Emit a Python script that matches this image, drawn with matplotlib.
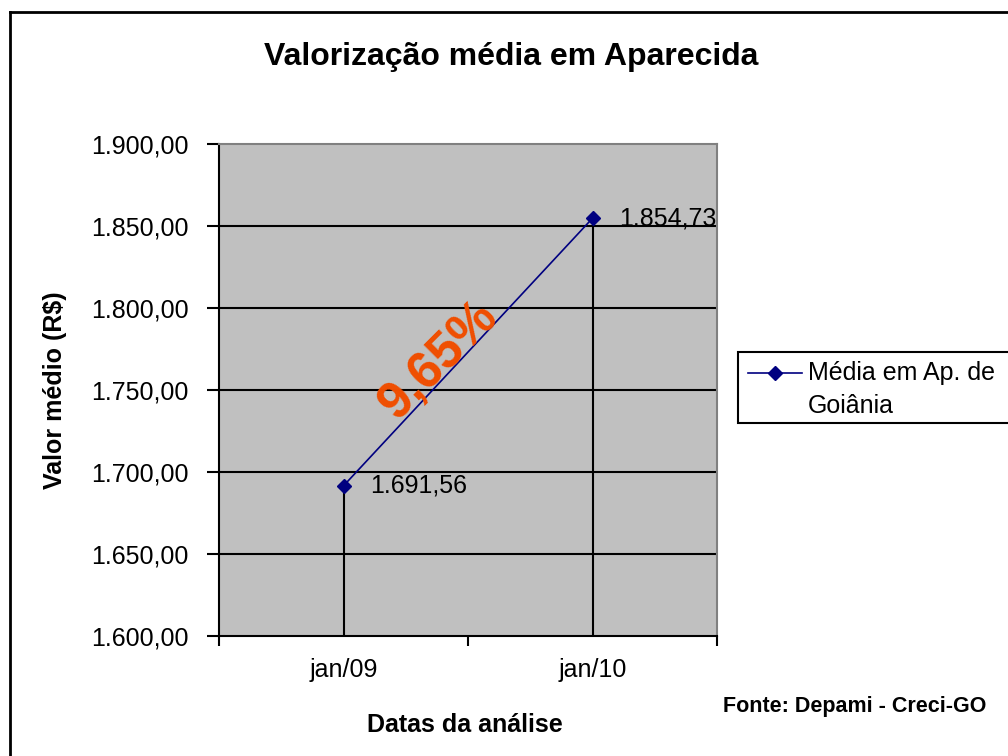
import matplotlib.pyplot as plt
from matplotlib.lines import Line2D
from matplotlib.patches import Rectangle

plt.rcParams['font.family'] = ['Liberation Sans', 'DejaVu Sans']

# dados
categorias = ["jan/09", "jan/10"]
valores = [1691.56, 1854.73]
variacao = "9,65%"
serie_label = "Média em Ap. de\nGoiânia"
y_ticks = [1600, 1650, 1700, 1750, 1800, 1850, 1900]

AZUL = '#000080'
LARANJA = '#F04E00'


def fmt_br(v):
    s = f"{v:,.2f}"
    return s.replace(",", "X").replace(".", ",").replace("X", ".")


fig = plt.figure(figsize=(10.08, 7.56), dpi=100)
W, H = 1008, 756


def fx(px):
    return px / W


def fy(py):
    return 1 - py / H


ax = fig.add_axes([fx(219), fy(636), (717 - 219) / W, (636 - 144) / H])
ax.set_facecolor('#C0C0C0')

x = list(range(len(categorias)))
ax.set_xlim(-0.5, len(categorias) - 0.5)
ax.set_ylim(y_ticks[0], y_ticks[-1])

# grade horizontal
for t in y_ticks[1:-1]:
    ax.axhline(t, color='black', lw=1.5, zorder=1)

# linhas de queda
ax.vlines(x, y_ticks[0], valores, color='black', lw=1.5, zorder=2)

ax.plot(x, valores, color=AZUL, lw=1.2, marker='D', markersize=7.5, zorder=3)

for xi, v in zip(x, valores):
    ax.annotate(fmt_br(v), (xi, v), xytext=(19, 0), textcoords='offset points',
                ha='left', va='center', fontsize=18, color='black')

ax.text(0.38, 1768, variacao, rotation=45, ha='center', va='center',
        fontsize=37, fontweight='bold', color=LARANJA, zorder=4)

ax.set_yticks(y_ticks)
ax.set_yticklabels([fmt_br(t) for t in y_ticks], fontsize=18)
ax.set_xticks(x)
ax.set_xticklabels(categorias, fontsize=18)
ax.set_xticks([-0.5, 0.5, 1.5], minor=True)
ax.tick_params(axis='x', which='major', length=0, pad=16)
ax.tick_params(axis='x', which='minor', length=7, width=1.5, direction='out')
ax.tick_params(axis='y', length=8.6, width=1.5, direction='out', pad=13.5)

for side in ['top', 'right']:
    ax.spines[side].set_color('#808080')
    ax.spines[side].set_linewidth(1.5)
for side in ['left', 'bottom']:
    ax.spines[side].set_color('black')
    ax.spines[side].set_linewidth(1.5)

# títulos
fig.text(fx(511), fy(65), 'Valorização média em Aparecida', ha='center',
         va='baseline', fontsize=23, fontweight='bold')
fig.text(fx(55), fy(390), 'Valor médio (R$)', ha='center', va='center',
         rotation=90, fontsize=18, fontweight='bold')
fig.text(fx(465), fy(732), 'Datas da análise', ha='center', va='baseline',
         fontsize=18, fontweight='bold')
fig.text(fx(723), fy(712), 'Fonte: Depami - Creci-GO', ha='left',
         va='baseline', fontsize=15.5, fontweight='bold')

# legenda
fig.add_artist(Rectangle((fx(738), fy(423)), fx(1020) - fx(738), (423 - 352) / H,
                         transform=fig.transFigure, facecolor='white',
                         edgecolor='black', lw=1.5))
fig.add_artist(Line2D([fx(748), fx(802)], [fy(373), fy(373)], color=AZUL, lw=1.2,
                      transform=fig.transFigure))
fig.add_artist(Line2D([fx(775)], [fy(373)], color=AZUL, marker='D', markersize=7.5,
                      transform=fig.transFigure))
fig.text(fx(808), fy(361), serie_label, ha='left', va='top',
         fontsize=18, linespacing=1.45)

# borda externa do gráfico
fig.add_artist(Line2D([fx(10), fx(10)], [fy(12), 0], color='black', lw=2,
                      transform=fig.transFigure))
fig.add_artist(Line2D([fx(10), 1], [fy(12), fy(12)], color='black', lw=2,
                      transform=fig.transFigure))

fig.savefig('out.png', dpi=100)
